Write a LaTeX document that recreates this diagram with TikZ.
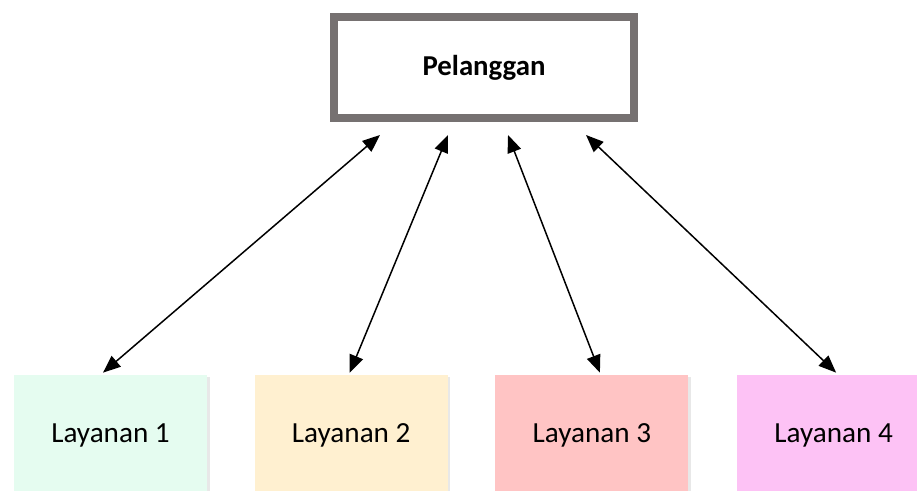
\documentclass[tikz,border=0pt]{standalone}
\usepackage{fontspec}
\setmainfont{Carlito}
\usetikzlibrary{positioning}
\usetikzlibrary{shadows, arrows.meta}

\definecolor{bordeGris}{HTML}{767171}
\definecolor{verdeMenta}{HTML}{E5FCF0}
\definecolor{crema}{HTML}{FFF0D0}
\definecolor{rosa}{HTML}{FFC4C4}
\definecolor{magenta}{HTML}{FDC2F5}

\tikzset{
    cliente/.style={draw=bordeGris, line width=0.16cm, fill=white,
        minimum width=6cm, minimum height=2.02cm,
        font=\fontsize{16.4}{19}\selectfont\bfseries,
        drop shadow={shadow xshift=0.05cm, shadow yshift=-0.08cm, opacity=0.3}},
    servicio/.style={minimum width=3.86cm, minimum height=2.4cm,
        font=\fontsize{16.6}{19}\selectfont,
        drop shadow={shadow xshift=0.05cm, shadow yshift=-0.03cm, opacity=0.18}},
    enlace/.style={<->, >={Triangle[length=0.35cm, width=0.28cm]}, line width=0.03cm}
}

\begin{document}
\begin{tikzpicture}
        % Marco de la figura
        \useasboundingbox (0,0) rectangle (18.34,-9.82);
        \clip (0,0) rectangle (18.34,-9.82);

        % Cliente
        \node[cliente] (pel) at (9.68,-1.35) {Pelanggan};

        % Servicios
        \node[servicio, fill=verdeMenta] (lay1) at (2.21,-8.7) {Layanan 1};
        \node[servicio, fill=crema, right=0.94cm of lay1] (lay2) {Layanan 2};
        \node[servicio, fill=rosa, right=0.94cm of lay2] (lay3) {Layanan 3};
        \node[servicio, fill=magenta, right=0.96cm of lay3] (lay4) {Layanan 4};

        % Enlaces
        \draw[enlace] ([xshift=-0.15cm, yshift=0.04cm]lay1.north) -- ([xshift=-2.08cm, yshift=-0.26cm]pel.south);
        \draw[enlace] ([xshift=-0.03cm, yshift=0.04cm]lay2.north) -- ([xshift=-0.72cm, yshift=-0.26cm]pel.south);
        \draw[enlace] ([xshift=0.16cm, yshift=0.04cm]lay3.north) -- ([xshift=0.48cm, yshift=-0.26cm]pel.south);
        \draw[enlace] ([xshift=0.05cm, yshift=0.04cm]lay4.north) -- ([xshift=2.04cm, yshift=-0.26cm]pel.south);
    \end{tikzpicture}
\end{document}
